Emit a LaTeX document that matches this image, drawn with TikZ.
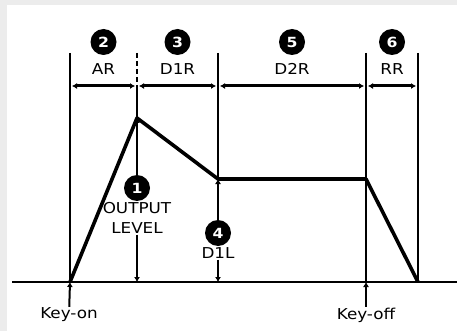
\documentclass[tikz,border=0pt]{standalone}
\usepackage{fontspec}
\setmainfont{DejaVu Sans}[FakeStretch=1.12]
\usetikzlibrary{positioning,arrows.meta,calc}
\tikzset{
  >={Latex[length=5pt,width=6pt]},
  guide/.style={line width=1.6pt},
  env/.style={line width=3.6pt,line join=round},
  span/.style={<->,line width=3pt,shorten <=2pt,shorten >=2pt},
  stub/.style={->,line width=2pt},
  numdot/.style={circle,fill=black,text=white,inner sep=0pt,
    minimum size=26pt,font=\bfseries\fontsize{14}{14}\selectfont},
  lbl/.style={font=\fontsize{15}{20}\selectfont,inner sep=1pt,align=center},
}

\begin{document}
\begin{tikzpicture}[x=1pt,y=-1pt]

% frame
\fill[gray!15] (0,0) rectangle (457,331);
\fill[white] (7,5) rectangle (457,331);
\useasboundingbox (0,0) rectangle (457,331);

% envelope corners
\coordinate (on) at (70,282);
\coordinate (peak) at (137,118);
\coordinate (sus) at (218,179);
\coordinate (off) at (366,179);
\coordinate (end) at (418,282);

% tops of the guide lines and the rate arrows
\coordinate (t0) at (70,53);
\coordinate (t1) at (137,53);
\coordinate (t2) at (218,53);
\coordinate (t3) at (366,53);
\coordinate (t4) at (418,53);
\coordinate (a0) at (70,86);
\coordinate (a1) at (137,86);
\coordinate (a2) at (218,86);
\coordinate (a3) at (366,86);
\coordinate (a4) at (418,86);

\coordinate (bl) at (12,282);
\coordinate (br) at (457,282);

% guides
\draw[guide] (t0) -- (on);
\draw[guide,dash pattern=on 5pt off 3pt] (t1) -- (a1);
\draw[guide] (a1) -- (peak);
\draw[guide] (t2) -- (sus);
\draw[guide] (t3) -- (t3 |- on);
\draw[guide] (t4) -- (end);
\draw[guide] (bl) -- (br);

% rates
\foreach \a/\b/\txt/\num in {a0/a1/AR/2, a1/a2/D1R/3, a2/a3/D2R/5, a3/a4/RR/6}{
  \draw[span] (\a) -- (\b);
  \node[lbl] (lab-\txt) at ($(\a)!0.5!(\b)+(0,-17)$) {\txt};
  \node[numdot] (num-\txt) at ($(\a)!0.5!(\b)+(0,-44)$) {\num};
}

% envelope
\draw[env] (on) -- (peak) -- (sus) -- (off) -- (end);

% output level
\node[numdot] (n1) at (137,188) {1};
\node[lbl,below=0pt of n1] (ol) {OUTPUT\\LEVEL};
\draw[stub] (n1) -- (peak);
\draw[stub] (ol) -- (peak |- on);

% decay 1 level
\node[numdot] (n4) at (218,233) {4};
\node[lbl,below=0pt of n4] (dl) {D1L};
\draw[stub] (n4) -- (sus);
\draw[stub] (dl) -- (sus |- on);

% keys
\node[lbl] (keyon) at (69,315) {Key-on};
\node[lbl] (keyoff) at (366,315) {Key-off};
\draw[stub] (keyon) -- (on);
\draw[stub] (keyoff) -- (t3 |- on);

\end{tikzpicture}
\end{document}
